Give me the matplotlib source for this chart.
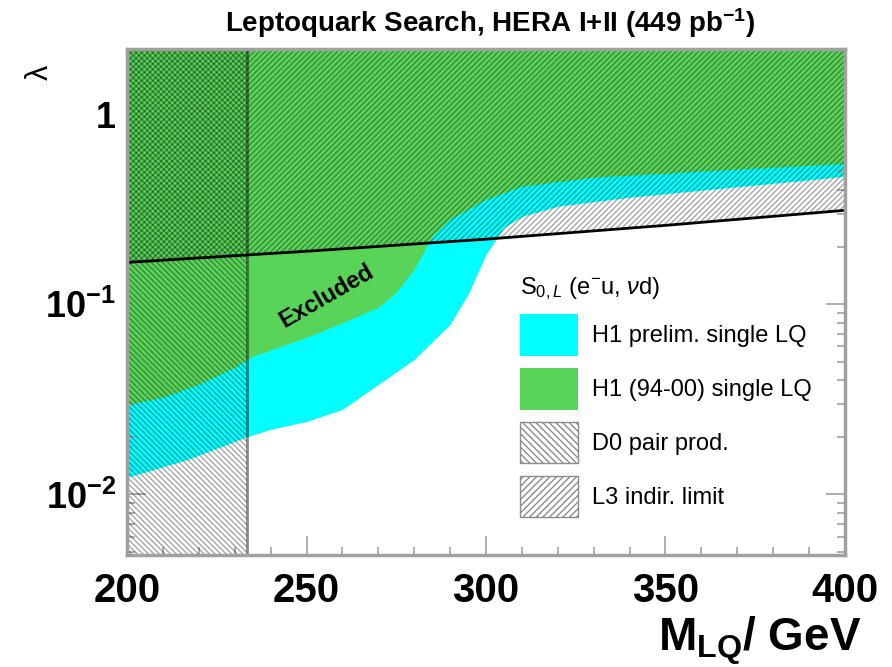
import matplotlib
matplotlib.use("Agg")
import matplotlib.pyplot as plt
from matplotlib import font_manager
from matplotlib.patches import Patch
from matplotlib.ticker import FixedLocator, MultipleLocator, NullFormatter

# limits in (M_LQ, lambda)
green_m = [200, 210, 220, 230, 235, 250, 260, 270, 275, 280, 285, 290, 300, 310, 330, 350, 380, 400]
green_lam = [0.0298, 0.0324, 0.038, 0.0466, 0.0533, 0.067, 0.080, 0.0964, 0.116, 0.153,
             0.228, 0.280, 0.357, 0.418, 0.466, 0.489, 0.526, 0.55]

cyan_m = [200, 217, 233, 240, 250, 260, 270, 280, 290, 295, 300, 305, 310, 320, 340, 360, 380, 400]
cyan_lam = [0.0123, 0.0153, 0.020, 0.022, 0.0242, 0.028, 0.0379, 0.0513, 0.0785, 0.113,
            0.183, 0.254, 0.290, 0.328, 0.366, 0.398, 0.433, 0.471]

l3_m = [200, 250, 300, 350, 400]
l3_lam = [0.166, 0.190, 0.220, 0.26, 0.312]

d0_limit = 233.4

legend_labels = ["H1 prelim. single LQ", "H1 (94-00) single LQ", "D0 pair prod.", "L3 indir. limit"]
y_ticks = [0.01, 0.1, 1]
y_ticklabels = [r"$\mathbf{10^{-2}}$", r"$\mathbf{10^{-1}}$", r"$\mathbf{1}$"]

names = {f.name for f in font_manager.fontManager.ttflist}
fam = "Liberation Sans Narrow" if "Liberation Sans Narrow" in names else "Liberation Sans"
plt.rcParams["font.family"] = [fam, "DejaVu Sans"]
plt.rcParams["mathtext.fontset"] = "custom"
plt.rcParams["mathtext.rm"] = fam
plt.rcParams["mathtext.bf"] = fam + ":bold"
plt.rcParams["mathtext.it"] = fam + ":italic"
plt.rcParams["hatch.linewidth"] = 1.0

CYAN = "#00ffff"
GREEN = "#58d458"
FRAME = "#a0a0a0"
top = 10

fig = plt.figure(figsize=(8.92, 6.67), dpi=100)
ax = fig.add_axes([0.1424, 0.1679, 0.8049, 0.7586])
ax.set_yscale("log")
ax.set_xlim(200, 400)
ax.set_ylim(0.0048, 2.2)

# exclusion regions
ax.fill_between(cyan_m, cyan_lam, top, color=CYAN, linewidth=0, zorder=1)
ax.fill_between(green_m, green_lam, top, color=GREEN, linewidth=0, zorder=2)

# L3 indirect limit, hatched above the line
ax.fill_between(l3_m, l3_lam, top, facecolor="none", edgecolor=(0, 0, 0, 0.35),
                hatch="//////", linewidth=0, zorder=3)
ax.plot(l3_m, l3_lam, color="black", lw=2, zorder=5)

# D0 pair production, all couplings below the mass limit
ax.fill_between([200, d0_limit], [1e-4, 1e-4], top, facecolor="none",
                edgecolor=(0, 0, 0, 0.35), hatch="\\\\\\\\\\\\", linewidth=0, zorder=3)
ax.axvline(d0_limit, color=(0, 0, 0, 0.45), lw=2, zorder=4)

ax.text(255.5, 0.11, "Excluded", rotation=30, fontsize=17, fontweight="bold",
        ha="center", va="center", zorder=6)

# axes styling
for s in ax.spines.values():
    s.set_color(FRAME)
    s.set_linewidth(2.5)
    s.set_zorder(10)
ax.xaxis.set_major_locator(MultipleLocator(50))
ax.xaxis.set_minor_locator(MultipleLocator(10))
ax.yaxis.set_major_locator(FixedLocator(y_ticks))
ax.set_yticklabels(y_ticklabels)
ax.yaxis.set_minor_formatter(NullFormatter())
ax.tick_params(which="both", direction="in", top=True, right=True, color=FRAME, width=1.2)
ax.tick_params(which="major", length=14)
ax.tick_params(which="minor", length=6)
ax.tick_params(axis="x", labelsize=29, pad=12)
ax.tick_params(axis="y", labelsize=26, pad=8)
for lab in ax.get_xticklabels():
    lab.set_fontweight("bold")

handles = [
    Patch(facecolor=CYAN, edgecolor="none"),
    Patch(facecolor=GREEN, edgecolor="none"),
    Patch(facecolor="white", edgecolor="#8c8c8c", hatch="\\\\\\\\\\"),
    Patch(facecolor="white", edgecolor="#8c8c8c", hatch="/////"),
]
leg = ax.legend(handles, legend_labels, title=r"S$_{0,L}$ (e$^{-}$u, $\nu$d)",
                loc="upper left", bbox_to_anchor=(0.547, 0.553), frameon=False,
                borderpad=0, borderaxespad=0,
                fontsize=17, title_fontsize=17, handlelength=2.45, handleheight=2.33,
                labelspacing=0.52, handletextpad=0.6, alignment="left")
leg.set_zorder(8)

fig.text(490 / 892, 1 - 23 / 667, r"Leptoquark Search, HERA I+II (449 pb$^{\mathbf{-1}}$)",
         ha="center", va="center", fontsize=20, fontweight="bold")
fig.text(40 / 892, 1 - 72 / 667, "λ", rotation=90, ha="center", va="center", fontsize=22)
fig.text(0.966, 0.023, r"$\mathbf{M_{LQ}}$/ GeV", ha="right", va="baseline",
         fontsize=33, fontweight="bold")

fig.savefig("out.png", dpi=100)
